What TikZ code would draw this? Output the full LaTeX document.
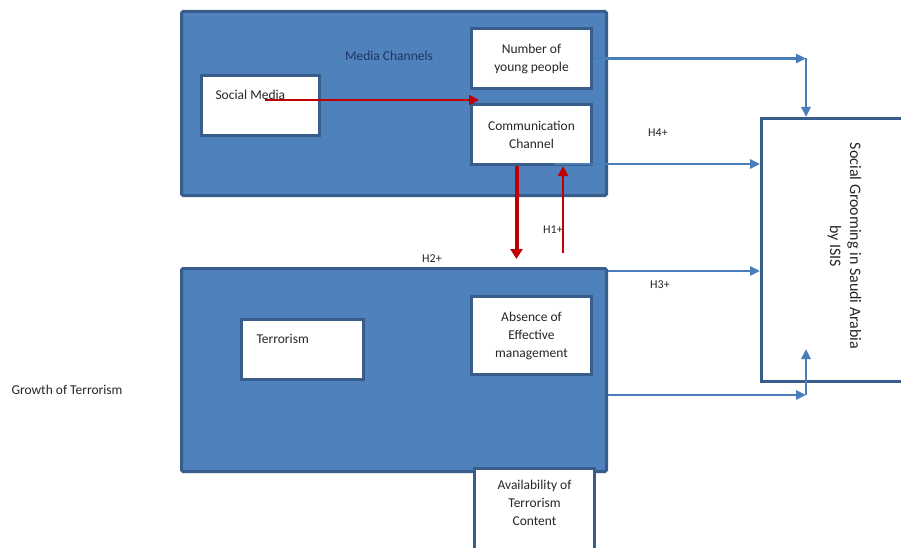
\documentclass[tikz,border=0pt]{standalone}
\usepackage{fontspec}
\setmainfont{Carlito}
\usepackage{xcolor}
\usepackage{tikz}
\usetikzlibrary{arrows.meta,positioning,calc}
\definecolor{groupblue}{HTML}{4F81BD}
\definecolor{edgeblue}{HTML}{385D8A}
\definecolor{linkblue}{HTML}{4A7EBB}
\definecolor{linkred}{HTML}{C00000}
\definecolor{titlenavy}{HTML}{1F3763}
\definecolor{textgray}{HTML}{262626}

\tikzset{
  groupbox/.style={draw=edgeblue, line width=3pt, fill=groupblue, rounded corners=1.5pt, anchor=north west, inner sep=0pt},
  whitebox/.style={draw=edgeblue, line width=3pt, fill=white, anchor=north west, inner sep=0pt, align=center, text=textgray, font=\fontsize{13.5}{18}\selectfont},
  boxtext/.style={align=center, text=textgray, font=\fontsize{13.5}{18}\selectfont},
  hyplabel/.style={text=textgray, font=\fontsize{12}{14}\selectfont},
  bluelink/.style={draw=linkblue, line width=2.5pt, -{Triangle[length=10pt,width=9pt]}},
  redthin/.style={draw=linkred, line width=2pt, -{Triangle[length=10pt,width=10pt]}},
  redthick/.style={draw=linkred, line width=4pt, -{Triangle[length=10pt,width=12pt]}}
}

\begin{document}
\begin{tikzpicture}[x=1pt, y=-1pt]
\useasboundingbox (0,0) rectangle (901,548);
\clip (0,0) rectangle (901,548);

% outer groups
\node[groupbox, minimum width=425, minimum height=184] (media) at (180,10) {};
\node[groupbox, minimum width=425, minimum height=203] (growth) at (180,267) {};
\node[text=titlenavy, font=\fontsize{13.5}{16}\selectfont] (mediatitle) at (389,56) {Media Channels};
\node[boxtext] (growthtitle) at (67,390) {Growth of Terrorism};

% inner boxes
\node[whitebox, minimum width=118, minimum height=60,
  label={[boxtext, anchor=north west, xshift=12pt, yshift=-13pt]north west:Social Media}] (social) at (200,74) {};
\node[whitebox, minimum width=120, minimum height=60] (young) at (470,27) {Number of\\young people};
\node[whitebox, minimum width=120, minimum height=60] (comm) at (470,103) {Communication\\Channel};
\node[whitebox, minimum width=122, minimum height=60,
  label={[boxtext, anchor=north west, xshift=13pt, yshift=-13pt]north west:Terrorism}] (terror) at (240,318) {};
\node[whitebox, minimum width=120, minimum height=78] (absence) at (470,295) {Absence of\\Effective\\management};
\node[whitebox, minimum width=120, minimum height=84,
  label={[boxtext, yshift=8pt]center:Availability of\\Terrorism\\Content}] (avail) at (473,467) {};

% outcome
\node[whitebox, minimum width=160, minimum height=263,
  label={[boxtext, rotate=-90, xshift=-4pt, yshift=3pt, font=\fontsize{16}{20}\selectfont]center:Social Grooming in Saudi Arabia\\by ISIS}] (grooming) at (760,117) {};

% red links
\coordinate (smstart) at ($(social.north west)+(65,26)$);
\draw[redthin] (smstart) -- (smstart -| {$(comm.north west)+(9,0)$});
\coordinate (downstart) at ($(comm.south)+(-15,0)$);
\draw[redthick] (downstart) -- ($(downstart |- growth.north)+(0,-8)$);
\coordinate (upstart) at ($(growth.north)+(169,-14)$);
\draw[redthin, line width=2.5pt] (upstart) -- (upstart |- comm.south);

% blue links
\coordinate (topbend) at ($(young.east)+(213,0)$);
\draw[bluelink] (young.east) -- (topbend);
\draw[bluelink] (topbend) -- (topbend |- grooming.north);
\coordinate (commout) at ($(comm.south east)+(-39,-2)$);
\draw[bluelink] (commout) -- (commout -| grooming.west);
\coordinate (growthout) at ($(growth.north east)+(0,4)$);
\draw[bluelink] (growthout) -- (growthout -| grooming.west);
\coordinate (lowout) at ($(growth.north east)+(0,128)$);
\coordinate (lowbend) at (lowout -| topbend);
\draw[bluelink] (lowout) -- (lowbend);
\draw[bluelink] (lowbend) -- ($(lowbend)+(0,-46)$);

% hypothesis labels
\node[hyplabel] (h1) at (553,230) {H1+};
\node[hyplabel] (h2) at (432,259) {H2+};
\node[hyplabel] (h3) at (660,285) {H3+};
\node[hyplabel] (h4) at (658,133) {H4+};
\end{tikzpicture}
\end{document}
